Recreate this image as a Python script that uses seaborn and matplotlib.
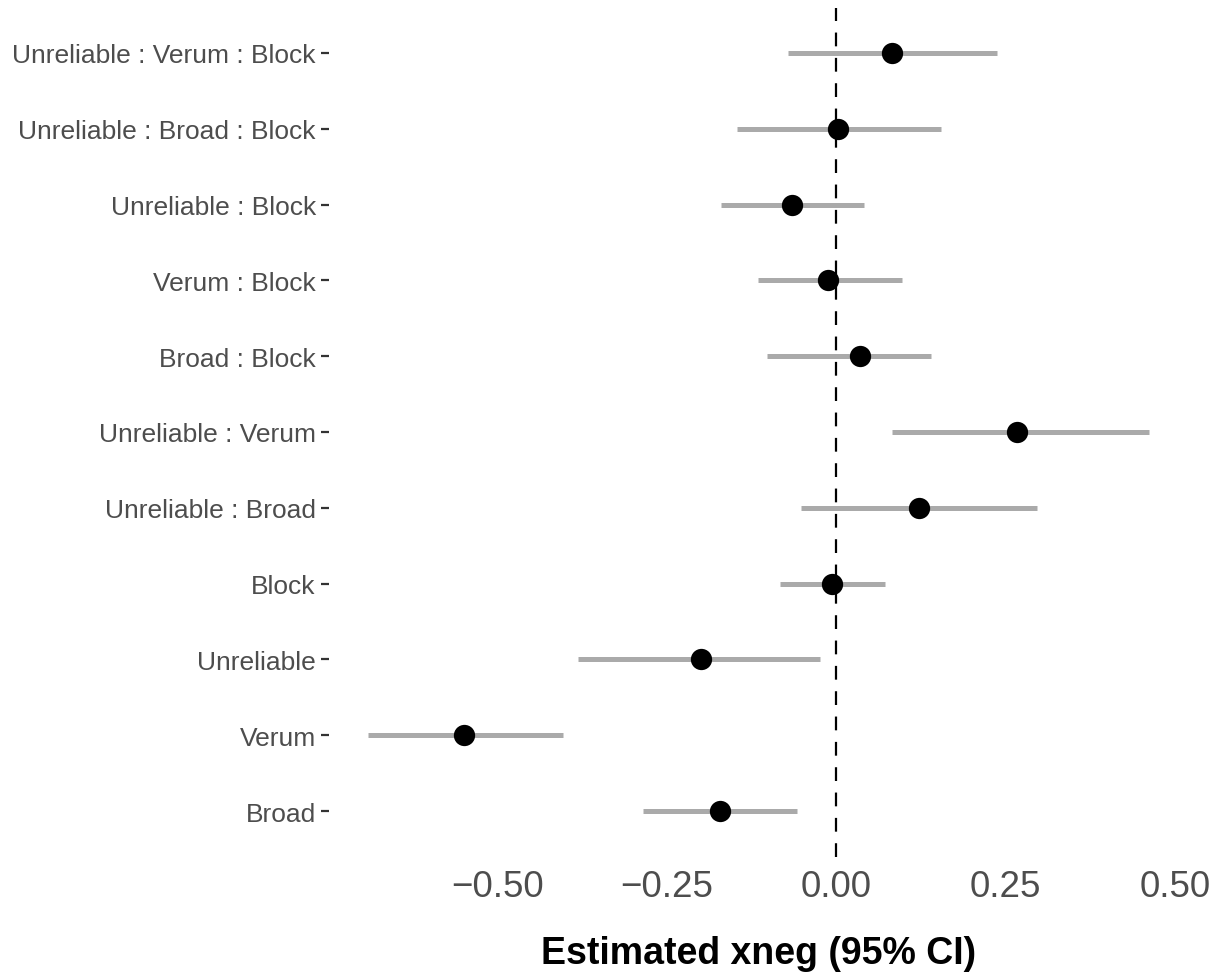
import matplotlib
matplotlib.use("Agg")
import matplotlib.pyplot as plt
import seaborn as sns
import pandas as pd

# Data (bottom to top)
terms = ["Broad", "Verum", "Unreliable", "Block", "Unreliable : Broad",
         "Unreliable : Verum", "Broad : Block", "Verum : Block",
         "Unreliable : Block", "Unreliable : Broad : Block",
         "Unreliable : Verum : Block"]
estimate = [-0.171, -0.549, -0.199, -0.006, 0.122, 0.267, 0.035, -0.012,
            -0.065, 0.003, 0.082]
ci_low = [-0.285, -0.691, -0.381, -0.083, -0.052, 0.082, -0.103, -0.115,
          -0.170, -0.147, -0.072]
ci_high = [-0.058, -0.404, -0.024, 0.072, 0.296, 0.462, 0.139, 0.097,
           0.041, 0.155, 0.237]
x_ticks = [-0.50, -0.25, 0.00, 0.25, 0.50]
x_tick_labels = ["\u22120.50", "\u22120.25", "0.00", "0.25", "0.50"]

df = pd.DataFrame({"term": terms, "estimate": estimate,
                   "low": ci_low, "high": ci_high})

sns.set_style("white")
plt.rcParams["font.family"] = ["Liberation Sans", "DejaVu Sans"]

W, H = 1224, 978
fig = plt.figure(figsize=(W / 100, H / 100), dpi=100)
ax = fig.add_axes([329 / W, 1 - 857.5 / H, (1188.5 - 329) / W, (857.5 - 8.5) / H])

ax.axvline(0, color="black", lw=1.6, linestyle=(0, (6.2, 5.2)), zorder=1)
ax.hlines(y=df["term"], xmin=df["low"], xmax=df["high"], color="#AAAAAA",
          lw=3.6, capstyle="butt", zorder=2)
sns.scatterplot(data=df, x="estimate", y="term", ax=ax, color="black",
                s=235, linewidth=0, zorder=3, legend=False)

ax.set_ylim(-0.6, len(terms) - 1 + 0.6)
xmin, xmax = min(ci_low), max(ci_high)
rng = xmax - xmin
ax.set_xlim(xmin - 0.05 * rng, xmax + 0.05 * rng)

ax.set_xticks(x_ticks)
ax.set_xticklabels(x_tick_labels)
ax.tick_params(axis="x", length=0, pad=9, labelsize=26.5, labelcolor="#4D4D4D")
ax.tick_params(axis="y", length=6, width=1.6, color="#333333", pad=3.5,
               labelsize=19, labelcolor="#4D4D4D", left=True)
for s in ax.spines.values():
    s.set_visible(False)

ax.set_ylabel("")
ax.set_xlabel("Estimated xneg (95% CI)", fontsize=27, fontweight="bold",
              color="black", labelpad=22)

fig.savefig("out.png", dpi=100)
